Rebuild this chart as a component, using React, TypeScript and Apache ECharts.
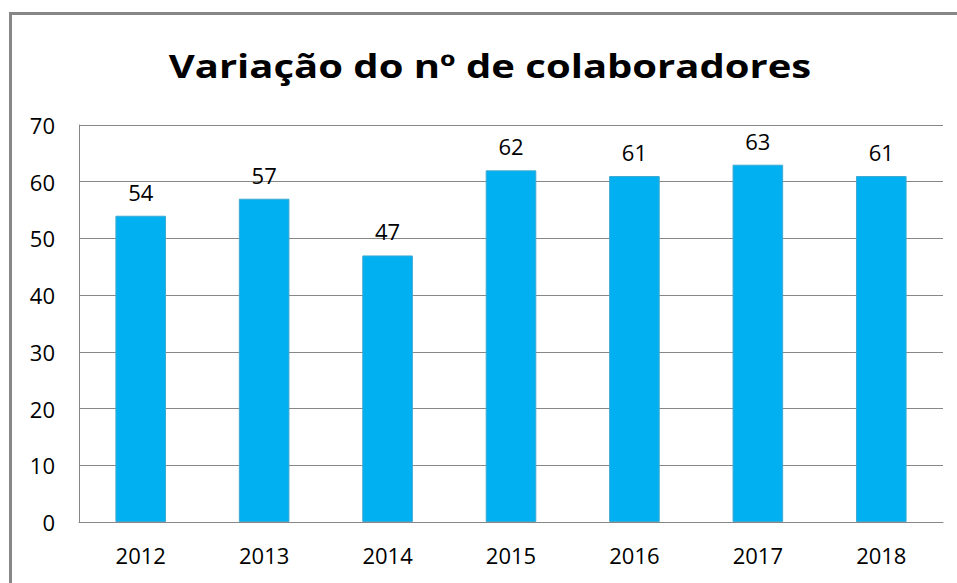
import React, { useEffect, useRef } from "react";
import * as echarts from "echarts";

const titleText = "Variação do nº de colaboradores";
const years = ["2012", "2013", "2014", "2015", "2016", "2017", "2018"];
const collaborators = [54, 57, 47, 62, 61, 63, 61];
const yMin = 0;
const yMax = 70;
const yStep = 10;

export default function App() {
  const ref = useRef<HTMLDivElement>(null);
  useEffect(() => {
    if (!ref.current) return;
    const chart = echarts.init(ref.current, undefined, { renderer: "svg" });
    const font = "'Open Sans', 'Noto Sans', sans-serif";
    chart.setOption({
      animation: false,
      backgroundColor: "#ffffff",
      graphic: [
        {
          type: "rect",
          shape: { x: 10.5, y: 13.5, width: 1200, height: 1200 },
          style: { fill: "none", stroke: "#878787", lineWidth: 3 },
          silent: true,
        },
        {
          type: "text",
          x: 490,
          y: 66,
          scaleX: 1.25,
          style: {
            text: titleText,
            fill: "#000000",
            font: "bold 32px 'Open Sans', 'Noto Sans', sans-serif",
            textAlign: "center",
            textVerticalAlign: "middle",
          },
          silent: true,
        },
      ],
      grid: { left: 79, top: 125, right: 14, bottom: 61, containLabel: false },
      xAxis: {
        type: "category",
        data: years,
        axisLine: { show: true, lineStyle: { color: "#878787", width: 1 } },
        axisTick: { show: false },
        axisLabel: { fontFamily: font, fontSize: 22, color: "#000", margin: 22 },
        splitLine: { show: false },
      },
      yAxis: {
        type: "value",
        min: yMin,
        max: yMax,
        interval: yStep,
        axisLine: { show: true, lineStyle: { color: "#878787", width: 1 } },
        axisTick: { show: false },
        axisLabel: { fontFamily: font, fontSize: 22, color: "#000", margin: 24 },
        splitLine: { show: true, lineStyle: { color: "#878787", width: 1 } },
      },
      series: [
        {
          type: "bar",
          data: collaborators,
          barWidth: "41%",
          itemStyle: { color: "#00B0F0", borderColor: "#3FA9D2", borderWidth: 1 },
          label: {
            show: true,
            position: "top",
            distance: 13,
            fontFamily: font,
            fontSize: 22,
            color: "#000",
          },
        },
      ],
    });
    return () => chart.dispose();
  }, []);
  return (
    <div
      ref={ref}
      style={{ position: "fixed", left: 0, top: 0, width: 957, height: 583 }}
    />
  );
}
